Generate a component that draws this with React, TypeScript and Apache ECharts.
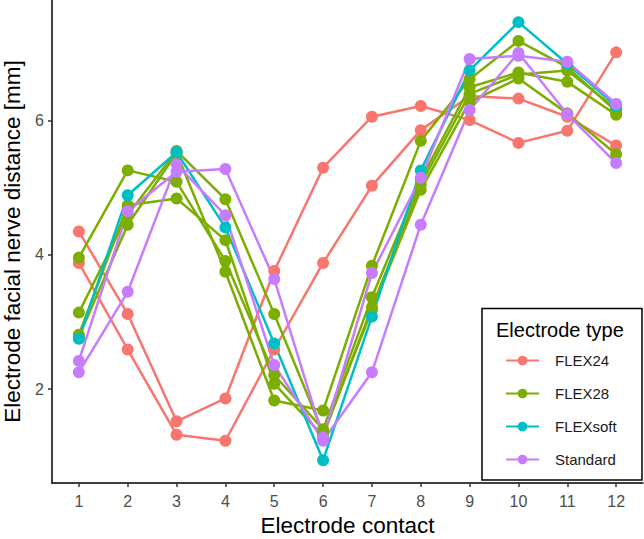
import React, { useEffect, useRef } from "react";
import * as echarts from "echarts";

const contacts = [1, 2, 3, 4, 5, 6, 7, 8, 9, 10, 11, 12];
const yTicks = [2, 4, 6];
const electrodeTypes = ["FLEX24", "FLEX28", "FLEXsoft", "Standard"];
const typeColors = ["#F8766D", "#7CAE00", "#00BFC4", "#C77CFF"];

const flex24A = [4.35, 3.12, 1.52, 1.86, 3.76, 5.3, 6.06, 6.22, 6.01, 5.67, 5.85, 7.02];
const flex24B = [3.88, 2.59, 1.32, 1.23, 2.59, 3.88, 5.03, 5.86, 6.37, 6.33, 6.06, 5.63];
const flex28A = [3.96, 5.26, 5.09, 3.91, 2.21, 1.4, 3.37, 5.12, 6.5, 6.72, 6.58, 6.09];
const flex28B = [3.14, 4.6, 5.55, 4.83, 3.12, 1.35, 3.18, 4.97, 6.28, 6.63, 6.11, 5.5];
const flex28C = [2.81, 4.74, 4.84, 4.22, 2.08, 1.3, 3.22, 5.05, 6.4, 6.69, 6.75, 6.18];
const flex28D = [2.78, 4.45, 5.52, 3.75, 1.83, 1.68, 3.84, 5.7, 6.62, 7.19, 6.8, 6.14];
const flexsoftA = [2.75, 4.89, 5.53, 4.41, 2.68, 0.94, 3.08, 5.26, 6.75, 7.47, 6.85, 6.22];
const standardA = [2.42, 4.65, 5.24, 5.28, 3.64, 1.28, 3.73, 5.15, 6.92, 6.97, 6.88, 6.25];
const standardB = [2.25, 3.45, 5.35, 4.59, 2.36, 1.23, 2.25, 4.45, 6.16, 7.01, 6.1, 5.37];

const lines: { type: string; values: number[] }[] = [
  { type: "FLEX24", values: flex24A },
  { type: "FLEX24", values: flex24B },
  { type: "FLEX28", values: flex28A },
  { type: "FLEX28", values: flex28B },
  { type: "FLEX28", values: flex28C },
  { type: "FLEX28", values: flex28D },
  { type: "FLEXsoft", values: flexsoftA },
  { type: "Standard", values: standardA },
  { type: "Standard", values: standardB },
];

const FONT = "'Liberation Sans', Arial, Helvetica, sans-serif";

export default function App() {
  const ref = useRef<HTMLDivElement>(null);
  useEffect(() => {
    document.body.style.margin = "0";
    if (!ref.current) return;
    const chart = echarts.init(ref.current, null, { renderer: "svg" });
    const series = lines.map((l) => {
      const color = typeColors[electrodeTypes.indexOf(l.type)];
      return {
        type: "line",
        name: l.type,
        data: contacts.map((c, i) => [c, l.values[i]]),
        symbol: "circle",
        symbolSize: 12,
        showSymbol: true,
        lineStyle: { color, width: 2.5 },
        itemStyle: { color },
        emphasis: { disabled: true },
        silent: true,
      };
    });
    chart.setOption({
      animation: false,
      textStyle: { fontFamily: FONT },
      grid: {
        left: 52,
        right: 1,
        top: 0,
        bottom: 56,
        containLabel: false,
        outerBoundsMode: "none",
      },
      xAxis: {
        type: "value",
        min: 0.45,
        max: 12.55,
        splitLine: { show: false },
        axisLine: { show: true, lineStyle: { color: "#000", width: 1.5 } },
        axisTick: {
          show: true,
          length: 4,
          customValues: contacts,
          lineStyle: { color: "#333", width: 1.5 },
        },
        axisLabel: {
          customValues: contacts,
          color: "#4D4D4D",
          fontSize: 16,
          margin: 10,
          fontFamily: FONT,
        },
        name: "Electrode contact",
        nameLocation: "middle",
        nameGap: 30,
        nameTextStyle: { fontSize: 22.5, color: "#000", fontFamily: FONT },
      },
      yAxis: {
        type: "value",
        min: 0.6,
        max: 7.8,
        splitLine: { show: false },
        axisLine: { show: true, lineStyle: { color: "#000", width: 1.5 } },
        axisTick: {
          show: true,
          length: 4,
          customValues: yTicks,
          lineStyle: { color: "#333", width: 1.5 },
        },
        axisLabel: {
          customValues: yTicks,
          color: "#4D4D4D",
          fontSize: 16,
          margin: 8,
          fontFamily: FONT,
        },
        name: "Electrode facial nerve distance [mm]",
        nameLocation: "middle",
        nameGap: 26,
        nameTextStyle: { fontSize: 22.5, color: "#000", fontFamily: FONT },
      },
      legend: {
        data: electrodeTypes,
        orient: "vertical",
        left: 500,
        top: 348,
        itemWidth: 33,
        itemHeight: 12,
        itemGap: 18,
        selectedMode: false,
        z: 20,
        textStyle: {
          fontSize: 15,
          color: "#1a1a1a",
          fontFamily: FONT,
          padding: [0, 0, 0, 11],
        },
      },
      graphic: [
        {
          type: "rect",
          z: 10,
          shape: { x: 482, y: 308.5, width: 160, height: 171.5 },
          style: { fill: "#fff", stroke: "#000", lineWidth: 1.5 },
        },
        {
          type: "text",
          z: 11,
          x: 496,
          y: 330,
          style: {
            text: "Electrode type",
            fontSize: 20,
            fill: "#000",
            fontFamily: FONT,
            verticalAlign: "middle",
          },
        },
      ],
      series,
    });
    return () => chart.dispose();
  }, []);
  return <div ref={ref} style={{ width: 644, height: 539 }} />;
}
